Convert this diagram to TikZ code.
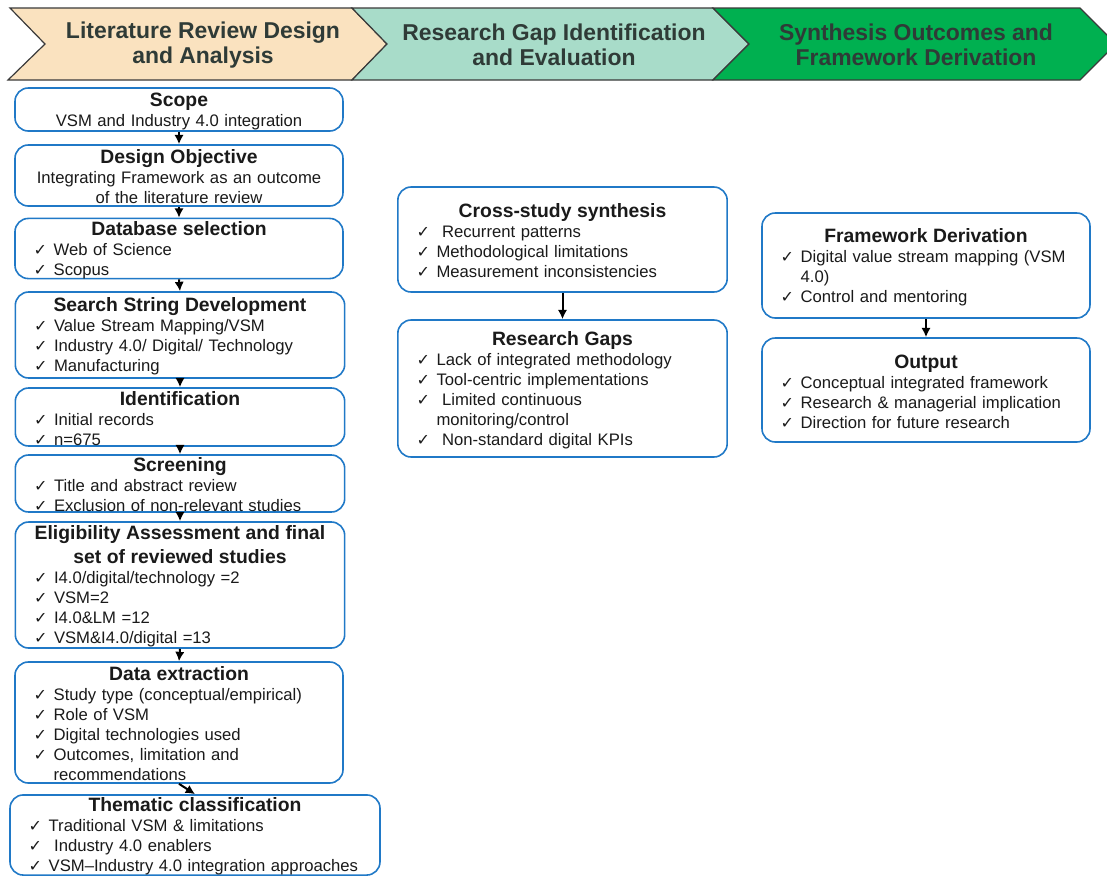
\documentclass[tikz,border=0pt]{standalone}
\usepackage{fontspec}
\setmainfont{Liberation Sans}
\newfontfamily\symf{DejaVu Sans}
\usetikzlibrary{arrows.meta}
\definecolor{Wheat}{HTML}{FAE2BF}
\definecolor{Mint}{HTML}{A8DCC9}
\definecolor{Leaf}{HTML}{00B050}
\definecolor{Edge}{HTML}{3A3A3A}
\definecolor{Ink}{HTML}{2F3B37}
\definecolor{BoxLine}{HTML}{2079C7}
\definecolor{Text}{HTML}{1A1A1A}
\newcommand{\hd}[1]{\makebox[\hsize][c]{\rule{0pt}{12.5pt}\fontsize{14.5}{15}\selectfont\bfseries #1}}
\newcommand{\ck}{\makebox[15pt][l]{\symf\fontsize{12}{15}\selectfont ✓}}
\newcommand{\ind}{\hspace*{15pt}}

\begin{document}
\begin{tikzpicture}[x=0.75pt,y=-0.75pt,font=\fontsize{12.5}{15}\selectfont, stage/.style={draw=Edge,line width=0.9pt}, banner/.style={font=\fontsize{17.2}{18.75}\selectfont\bfseries,text=Ink,align=center}, stepbox/.style={draw=BoxLine,line width=1.2pt,rounded corners=10pt,fill=white,align=left,inner xsep=14pt,inner ysep=0pt,text=Text}, flow/.style={-{Latex[length=7pt,width=7pt]},line width=1.5pt,draw=black}]
\fill[white] (0,0) rectangle (1107,876);
\useasboundingbox (0,0) rectangle (1107,876);
% header chevrons
\filldraw[stage,fill=Wheat] (10,8)--(352,8)--(387,44)--(352,80)--(8,80)--(45,44)--cycle;
\filldraw[stage,fill=Mint] (352,8)--(713,8)--(749,44)--(713,80)--(352,80)--(387,44)--cycle;
\filldraw[stage,fill=Leaf] (713,8)--(1080,8)--(1116,44)--(1080,80)--(713,80)--(749,44)--cycle;
\node[banner] (H1) at (203,45) {Literature Review Design\\and Analysis};
\node[banner] (H2) at (554,45) {Research Gap Identification\\and Evaluation};
\node[banner] (H3) at (916,45) {Synthesis Outcomes and\\Framework Derivation};
% literature review column
\node[stepbox,align=center,text width=218pt,minimum height=32.25pt] (Sc) at (179,109.5) {\hd{Scope}\\VSM and Industry 4.0 integration};
\node[stepbox,align=center,text width=218pt,minimum height=45.75pt] (DO) at (179,175.5) {\hd{Design Objective}\\Integrating Framework as an outcome\\of the literature review};
\node[stepbox,text width=218pt,minimum height=44.25pt] (DB) at (179,248.5) {\hd{Database selection}\\\ck Web of Science\\\ck Scopus};
\node[stepbox,text width=219pt,minimum height=64.5pt] (SS) at (180,335) {\hd{Search String Development}\\\ck Value Stream Mapping/VSM\\\ck Industry 4.0/ Digital/ Technology\\\ck Manufacturing};
\node[stepbox,text width=219pt,minimum height=43.5pt] (Id) at (180,417) {\hd{Identification}\\\ck Initial records\\\ck n=675};
\node[stepbox,text width=219pt,minimum height=42.75pt] (Scr) at (180,483.5) {\hd{Screening}\\\ck Title and abstract review\\\ck Exclusion of non-relevant studies};
\node[stepbox,text width=219pt,minimum height=94.5pt] (El) at (180,585) {\hd{Eligibility Assessment and final}\\[1.5pt]\hd{set of reviewed studies}\\\ck I4.0/digital/technology =2\\\ck VSM=2\\\ck I4.0\&LM =12\\\ck VSM\&I4.0/digital =13};
\node[stepbox,text width=218pt,minimum height=90.75pt] (DE) at (179,722.5) {\hd{Data extraction}\\\ck Study type (conceptual/empirical)\\\ck Role of VSM\\\ck Digital technologies used\\\ck Outcomes, limitation and\\\ind recommendations};
\node[stepbox,text width=249.5pt,minimum height=60pt] (TC) at (195,835) {\hd{Thematic classification}\\\ck Traditional VSM \& limitations\\\ck\ Industry 4.0 enablers\\\ck VSM--Industry 4.0 integration approaches};
\draw[flow] (Sc.south)--(DO.north);\draw[flow] (DO.south)--(DB.north);\draw[flow] (DB.south)--(SS.north);\draw[flow] (SS.south)--(Id.north);
\draw[flow] (Id.south)--(Scr.north);\draw[flow] (Scr.south)--(El.north);\draw[flow] (El.south)--(DE.north);\draw[flow] (DE.south)--(TC.north);
% gap identification column
\node[stepbox,text width=219pt,minimum height=78.75pt] (CS) at (562.5,239.5) {\hd{Cross-study synthesis}\\\ck\ Recurrent patterns\\\ck Methodological limitations\\\ck Measurement inconsistencies};
\node[stepbox,text width=219pt,minimum height=102.75pt] (RG) at (562.5,388.5) {\hd{Research Gaps}\\\ck Lack of integrated methodology\\\ck Tool-centric implementations\\\ck\ Limited continuous\\\ind monitoring/control\\\ck\ Non-standard digital KPIs};
\draw[flow] (CS.south)--(RG.north);
% outcome column
\node[stepbox,text width=218pt,minimum height=78.75pt] (FD) at (926,265.5) {\hd{Framework Derivation}\\\ck Digital value stream mapping (VSM\\\ind 4.0)\\\ck Control and mentoring};
\node[stepbox,text width=218pt,minimum height=78pt] (Out) at (926,390) {\hd{Output}\\\ck Conceptual integrated framework\\\ck Research \& managerial implication\\\ck Direction for future research};
\draw[flow] (FD.south)--(Out.north);
\end{tikzpicture}
\end{document}
